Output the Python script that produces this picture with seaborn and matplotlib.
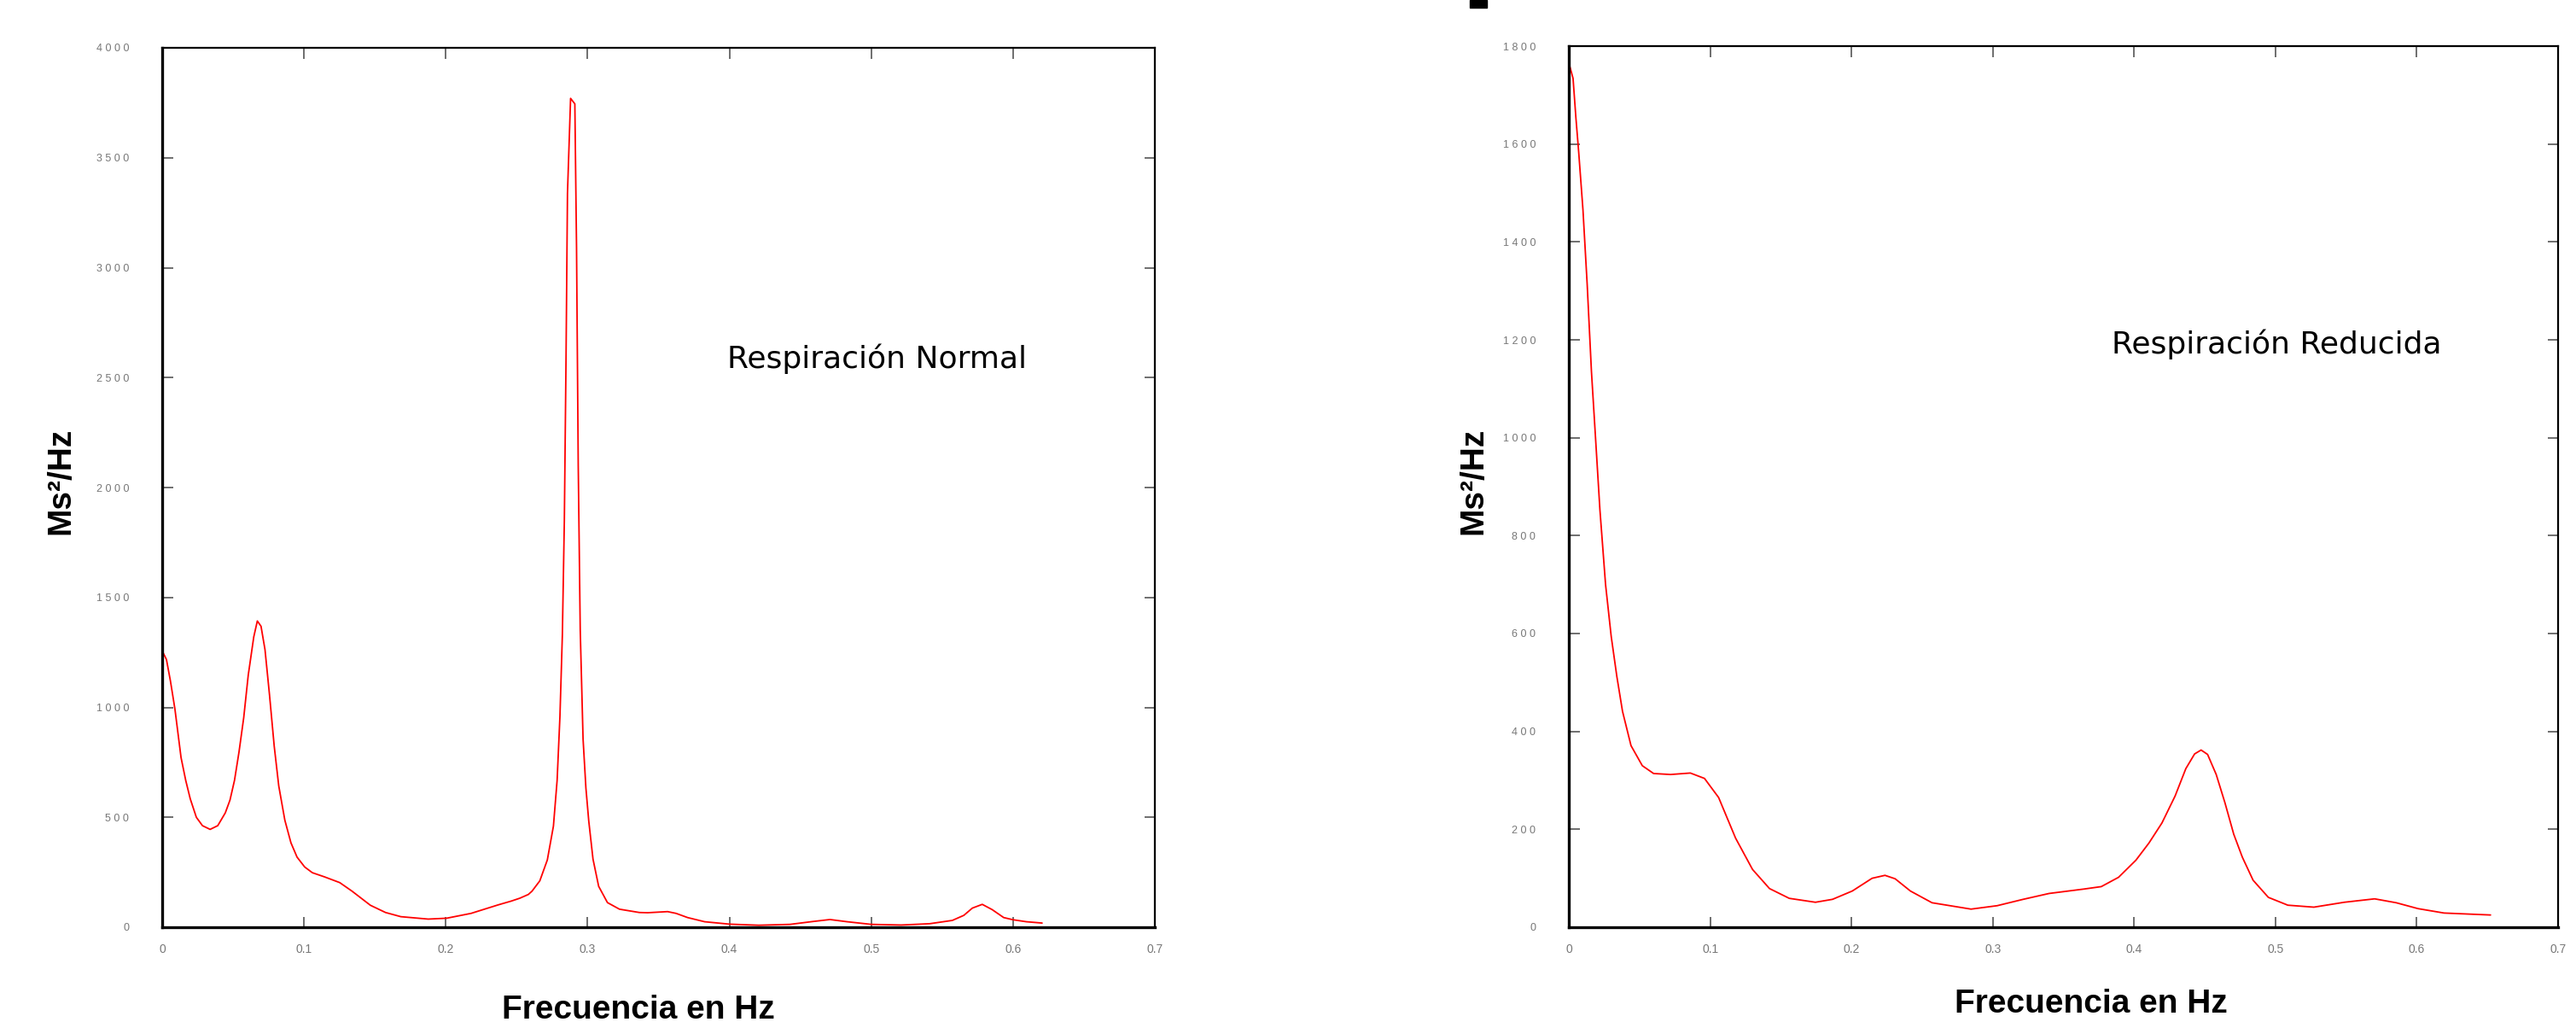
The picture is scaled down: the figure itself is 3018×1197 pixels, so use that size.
"""
Espectro de potencia (PSD) - respiración normal vs reducida
"""
import matplotlib
matplotlib.use("Agg")
import matplotlib.pyplot as plt
import matplotlib.transforms as mtransforms
from matplotlib.patches import Rectangle
import seaborn as sns

############################################################
# Data
############################################################
freq_normal = [0, 0.003, 0.0058, 0.009, 0.0133, 0.0166, 0.0198, 0.0241, 0.0284, 0.0338,
               0.0392, 0.0445, 0.0478, 0.051, 0.0542, 0.0575, 0.0607, 0.0646, 0.0671, 0.0697,
               0.0725, 0.0757, 0.079, 0.0822, 0.0865, 0.0908, 0.0951, 0.1005, 0.1059, 0.1145,
               0.1252, 0.1339, 0.1468, 0.1575, 0.1683, 0.1876, 0.2006, 0.2178, 0.2371, 0.2462,
               0.2522, 0.2582, 0.2608, 0.2663, 0.2716, 0.2759, 0.2785, 0.2805, 0.2822, 0.2836,
               0.2848, 0.2858, 0.2880, 0.2910, 0.2922, 0.2934, 0.2948, 0.2968, 0.2988, 0.3008,
               0.3038, 0.3078, 0.3140, 0.3225, 0.3365, 0.3424, 0.3564, 0.3624, 0.3705, 0.3825,
               0.4, 0.4207, 0.4428, 0.4588, 0.4709, 0.483, 0.5, 0.5211, 0.5412, 0.5572,
               0.5653, 0.5713, 0.5783, 0.5853, 0.5934, 0.6, 0.6094, 0.6205]
psd_normal = [1257, 1218, 1121, 992, 772, 668, 584, 500, 462, 445,
              462, 520, 578, 668, 798, 953, 1147, 1321, 1393, 1369,
              1263, 1056, 824, 643, 487, 384, 319, 274, 248, 229,
              203, 164, 100, 67, 48, 37, 41, 63, 102, 119,
              132, 149, 164, 211, 306, 460, 668, 960, 1330, 1849,
              2593, 3337, 3770, 3745, 3089, 2097, 1352, 856, 633, 484,
              310, 186, 112, 82, 67, 66, 71, 63, 44, 25,
              14, 9, 13, 26, 35, 25, 13, 10, 16, 31,
              54, 87, 104, 80, 44, 34, 25, 19]

freq_reduced = [0, 0.003, 0.005, 0.007, 0.010, 0.013, 0.016, 0.019, 0.022, 0.026,
                0.030, 0.034, 0.038, 0.044, 0.052, 0.060, 0.072, 0.086, 0.096, 0.106,
                0.118, 0.130, 0.142, 0.156, 0.1745, 0.1866, 0.2006, 0.2146, 0.2237, 0.2309,
                0.2417, 0.257, 0.2846, 0.3031, 0.3215, 0.3399, 0.3645, 0.3768, 0.3890, 0.4013,
                0.4105, 0.4197, 0.429, 0.4366, 0.4428, 0.4474, 0.452, 0.4581, 0.4643, 0.4705,
                0.4766, 0.4842, 0.495, 0.5088, 0.5272, 0.5487, 0.5702, 0.5855, 0.6009, 0.6193,
                0.6522]
psd_reduced = [1766, 1734, 1654, 1583, 1466, 1313, 1136, 995, 853, 700,
               594, 512, 441, 371, 330, 314, 312, 315, 304, 265,
               182, 118, 79, 59, 51, 57, 74, 100, 106, 99,
               74, 50, 37, 44, 57, 69, 78, 83, 102, 137,
               172, 213, 268, 324, 354, 362, 353, 312, 254, 190,
               143, 96, 61, 45, 41, 51, 58, 50, 38, 29,
               25]

x_ticks = [0, 0.1, 0.2, 0.3, 0.4, 0.5, 0.6, 0.7]
x_tick_labels = ['0', '0.1', '0.2', '0.3', '0.4', '0.5', '0.6', '0.7']
y_ticks_normal = [0, 500, 1000, 1500, 2000, 2500, 3000, 3500, 4000]
y_ticks_reduced = [0, 200, 400, 600, 800, 1000, 1200, 1400, 1600, 1800]

panels = [
    dict(freq=freq_normal, psd=psd_normal, yticks=y_ticks_normal, ymax=4000,
         title='Respiración Normal', text_xy=(0.504, 2586),
         rect=[190 / 3018, 111 / 1197, 1163 / 3018, 1030 / 1197],
         xlabel_xy=(0.480, -0.077), ylabel_xy=(-0.102, 0.507)),
    dict(freq=freq_reduced, psd=psd_reduced, yticks=y_ticks_reduced, ymax=1800,
         title='Respiración Reducida', text_xy=(0.501, 1190),
         rect=[1838 / 3018, 111 / 1197, 1159 / 3018, 1032 / 1197],
         xlabel_xy=(0.528, -0.070), ylabel_xy=(-0.096, 0.506)),
]

############################################################
# Plot
############################################################
sns.set_style('white')
plt.rcParams['font.family'] = ['DejaVu Sans']

fig = plt.figure(figsize=(30.18, 11.97), dpi=100)
narrow = ['Liberation Sans Narrow', 'Liberation Sans', 'DejaVu Sans']
bold_font = ['Liberation Sans', 'DejaVu Sans']
shift = mtransforms.ScaledTranslation(-16 / 100, 0, fig.dpi_scale_trans)

for p in panels:
    ax = fig.add_axes(p['rect'])
    sns.lineplot(x=p['freq'], y=p['psd'], ax=ax, color='red', linewidth=1.3,
                 estimator=None, sort=False)
    ax.set_xlim(0, 0.7)
    ax.set_ylim(0, p['ymax'])

    ax.set_xticks(x_ticks)
    ax.set_xticklabels(x_tick_labels, family=narrow, fontsize=10, color='#777777')
    ax.set_yticks(p['yticks'])
    ax.set_yticklabels([' '.join(str(v)) for v in p['yticks']],
                       family=narrow, fontsize=9, color='#777777')
    for lab in ax.get_xticklabels():
        lab.set_transform(lab.get_transform() + shift)

    ax.tick_params(axis='both', direction='in', top=True, right=True,
                   left=True, bottom=True, length=9, width=1.2, color='#555555')
    ax.tick_params(axis='x', pad=14)
    ax.tick_params(axis='y', pad=28)
    for side in ['left', 'bottom', 'top', 'right']:
        ax.spines[side].set_visible(True)
        ax.spines[side].set_color('black')
        ax.spines[side].set_linewidth(1.6)
    ax.spines['left'].set_linewidth(2.4)
    ax.spines['bottom'].set_linewidth(2.4)

    ax.set_xlabel('Frecuencia en Hz', family=bold_font, fontsize=28,
                  fontweight='bold', color='black')
    ax.xaxis.set_label_coords(*p['xlabel_xy'])
    ax.set_ylabel('Ms²/Hz', family=bold_font, fontsize=28, fontweight='bold',
                  color='black', va='center')
    ax.yaxis.set_label_coords(*p['ylabel_xy'])

    ax.text(p['text_xy'][0], p['text_xy'][1], p['title'], ha='center', va='center',
            fontsize=26, color='black')

# leftover mark at the top of the original figure
fig.add_artist(Rectangle((1722 / 3018, 1 - 9 / 1197), 20 / 3018, 9 / 1197,
                         transform=fig.transFigure, color='black'))

fig.savefig('out.png', dpi=100)
